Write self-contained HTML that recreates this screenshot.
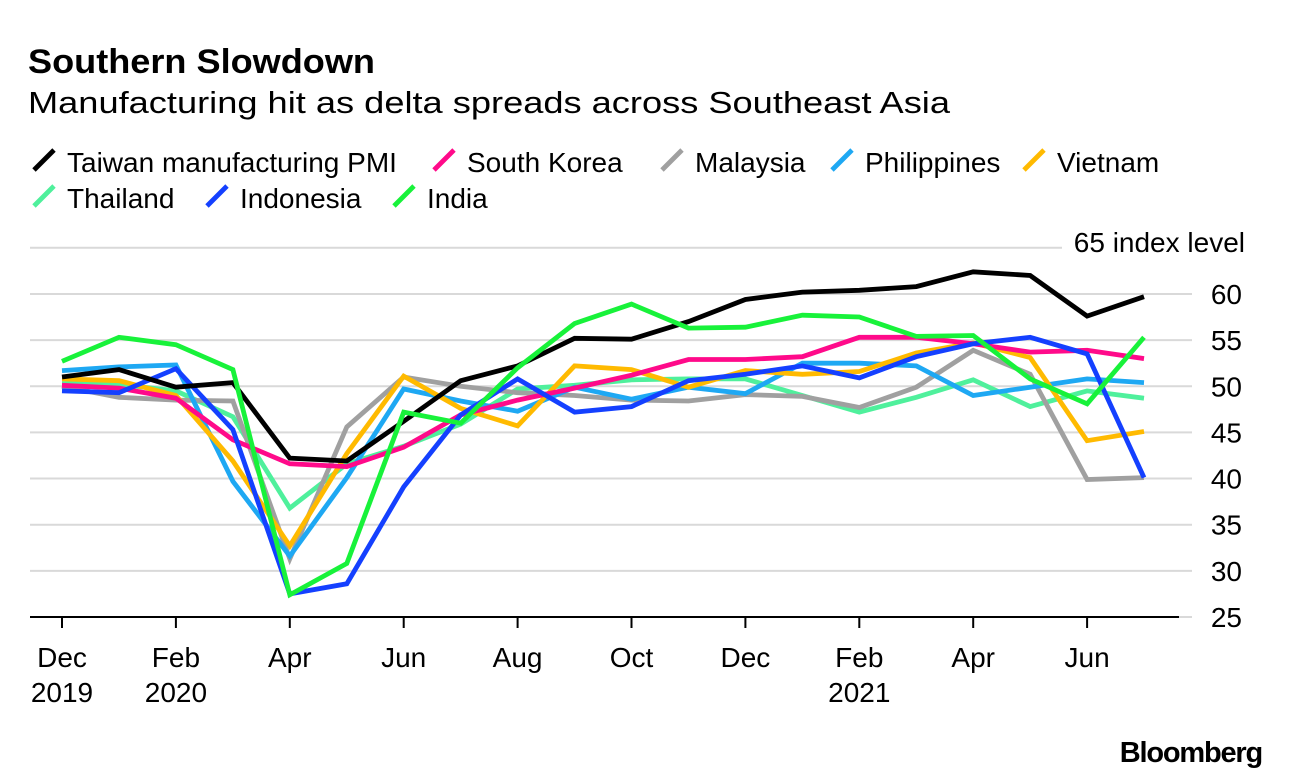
<!DOCTYPE html>
<html><head><meta charset="utf-8"><style>
body{margin:0;background:#fff;width:1289px;height:778px;overflow:hidden}
svg{font-family:"Liberation Sans",Arial,sans-serif}
</style></head><body>
<svg id="chart" width="1289" height="778" viewBox="0 0 1289 778">
<text x="28" y="73" font-size="34" font-weight="bold" fill="#000" textLength="347" lengthAdjust="spacingAndGlyphs">Southern Slowdown</text>
<text x="28" y="113" font-size="31" fill="#000" textLength="922" lengthAdjust="spacingAndGlyphs">Manufacturing hit as delta spreads across Southeast Asia</text>
<g id="legend" fill="#000"></g>
<g id="grid"></g>
<g id="xaxis"></g>
<g id="series"></g>
<text x="1262" y="762" text-anchor="end" font-size="29" font-weight="bold" letter-spacing="-1.2" fill="#000">Bloomberg</text>
</svg>
<script>
const months=["Dec","Jan","Feb","Mar","Apr","May","Jun","Jul","Aug","Sep","Oct","Nov","Dec","Jan","Feb","Mar","Apr","May","Jun","Jul"];
const yTicks=[25,30,35,40,45,50,55,60,65];
const xTickLabels=[[0,"Dec","2019"],[2,"Feb","2020"],[4,"Apr",""],[6,"Jun",""],[8,"Aug",""],[10,"Oct",""],[12,"Dec",""],[14,"Feb","2021"],[16,"Apr",""],[18,"Jun",""]];
const seriesNames=["Taiwan manufacturing PMI","South Korea","Malaysia","Philippines","Vietnam","Thailand","Indonesia","India"];
const taiwan=[51.0,51.8,49.9,50.4,42.2,41.9,46.2,50.6,52.2,55.2,55.1,57.0,59.4,60.2,60.4,60.8,62.4,62.0,57.6,59.7];
const korea=[50.1,49.8,48.7,44.2,41.6,41.3,43.4,46.9,48.5,49.8,51.2,52.9,52.9,53.2,55.3,55.3,54.6,53.7,53.9,53.0];
const malaysia=[50.0,48.8,48.5,48.4,31.3,45.6,51.0,50.0,49.3,49.0,48.5,48.4,49.1,48.9,47.7,49.9,53.9,51.3,39.9,40.1];
const philippines=[51.7,52.1,52.3,39.7,31.6,40.1,49.7,48.4,47.3,49.9,48.6,49.9,49.2,52.5,52.5,52.2,49.0,49.9,50.8,50.4];
const vietnam=[50.8,50.6,49.0,41.9,32.7,42.7,51.1,47.6,45.7,52.2,51.8,49.9,51.7,51.3,51.6,53.6,54.7,53.1,44.1,45.1];
const thailand=[50.3,50.2,49.5,46.7,36.8,41.6,43.5,45.9,49.7,50.1,50.7,50.8,50.8,49.0,47.2,48.8,50.7,47.8,49.5,48.7];
const indonesia=[49.5,49.3,51.9,45.3,27.5,28.6,39.1,46.9,50.8,47.2,47.8,50.6,51.3,52.2,50.9,53.2,54.6,55.3,53.5,40.1];
const india=[52.7,55.3,54.5,51.8,27.4,30.8,47.2,46.0,52.0,56.8,58.9,56.3,56.4,57.7,57.5,55.4,55.5,50.8,48.1,55.3];

const NS="http://www.w3.org/2000/svg";
function mk(t,a,p){const e=document.createElementNS(NS,t);for(const k in a)e.setAttribute(k,a[k]);p.appendChild(e);return e;}
const x=i=>62+i*56.95;
const y=v=>617-(v-25)*9.23;
const colors=["#000000","#ff0a8a","#a0a0a0","#1ea8f3","#ffba00","#4ff09c","#1440ff","#18f23a"];
const data=[taiwan,korea,malaysia,philippines,vietnam,thailand,indonesia,india];
const slugs=["taiwan","south-korea","malaysia","philippines","vietnam","thailand","indonesia","india"];

const grid=document.getElementById('grid');
yTicks.forEach(v=>{
  const l=mk('line',{x1:30,x2:v==65?1062:1192,y1:y(v),y2:y(v),stroke:'#d9d9d9','stroke-width':2},grid);
  
  
  const t=mk('text',{x:1242,y:y(v)+10,'font-size':28,'text-anchor':'end',fill:'#000'},grid);
  t.textContent=v==65?"":String(v);
  
  
});
const unit=mk('text',{x:1245,y:y(65)+4,'font-size':28,'text-anchor':'end',fill:'#000'},grid);
unit.textContent="65 index level";



const xa=document.getElementById('xaxis');
const ax=mk('line',{x1:30,x2:1179,y1:617,y2:617,stroke:'#000','stroke-width':2},xa);


xTickLabels.forEach(([i,m,yr])=>{
  const tk=mk('line',{x1:x(i),x2:x(i),y1:617,y2:628,stroke:'#000','stroke-width':2},xa);
  
  
  const t=mk('text',{x:x(i),y:667,'font-size':28,'text-anchor':'middle',fill:'#000'},xa);
  t.textContent=m;
  
  
  if(yr){const t2=mk('text',{x:x(i),y:702,'font-size':28,'text-anchor':'middle',fill:'#000'},xa);
  t2.textContent=yr;
  
  }
});

const sg=document.getElementById('series');
[5,2,3,4,1,6,0,7].forEach(k=>{
  const pts=data[k].map((v,i)=>x(i).toFixed(1)+','+y(v).toFixed(1)).join(' ');
  const p=mk('polyline',{points:pts,fill:'none',stroke:colors[k],'stroke-width':4.8,'stroke-linejoin':'miter'},sg);
  
  
});

const lg=document.getElementById('legend');
const lpos=[[32,172],[432,172],[660,172],[830,172],[1022,172],[32,208],[205,208],[392,208]];
seriesNames.forEach((n,k)=>{
  const [lx,ly]=lpos[k];
  const g=mk('g',{},lg);
  
  
  mk('line',{x1:lx+2,y1:ly-2,x2:lx+22,y2:ly-22,stroke:colors[k],'stroke-width':4.8},g);
  const t=mk('text',{x:lx+35,y:ly,'font-size':28,fill:'#000'},g);
  t.textContent=n;
});
</script>
</body></html>
